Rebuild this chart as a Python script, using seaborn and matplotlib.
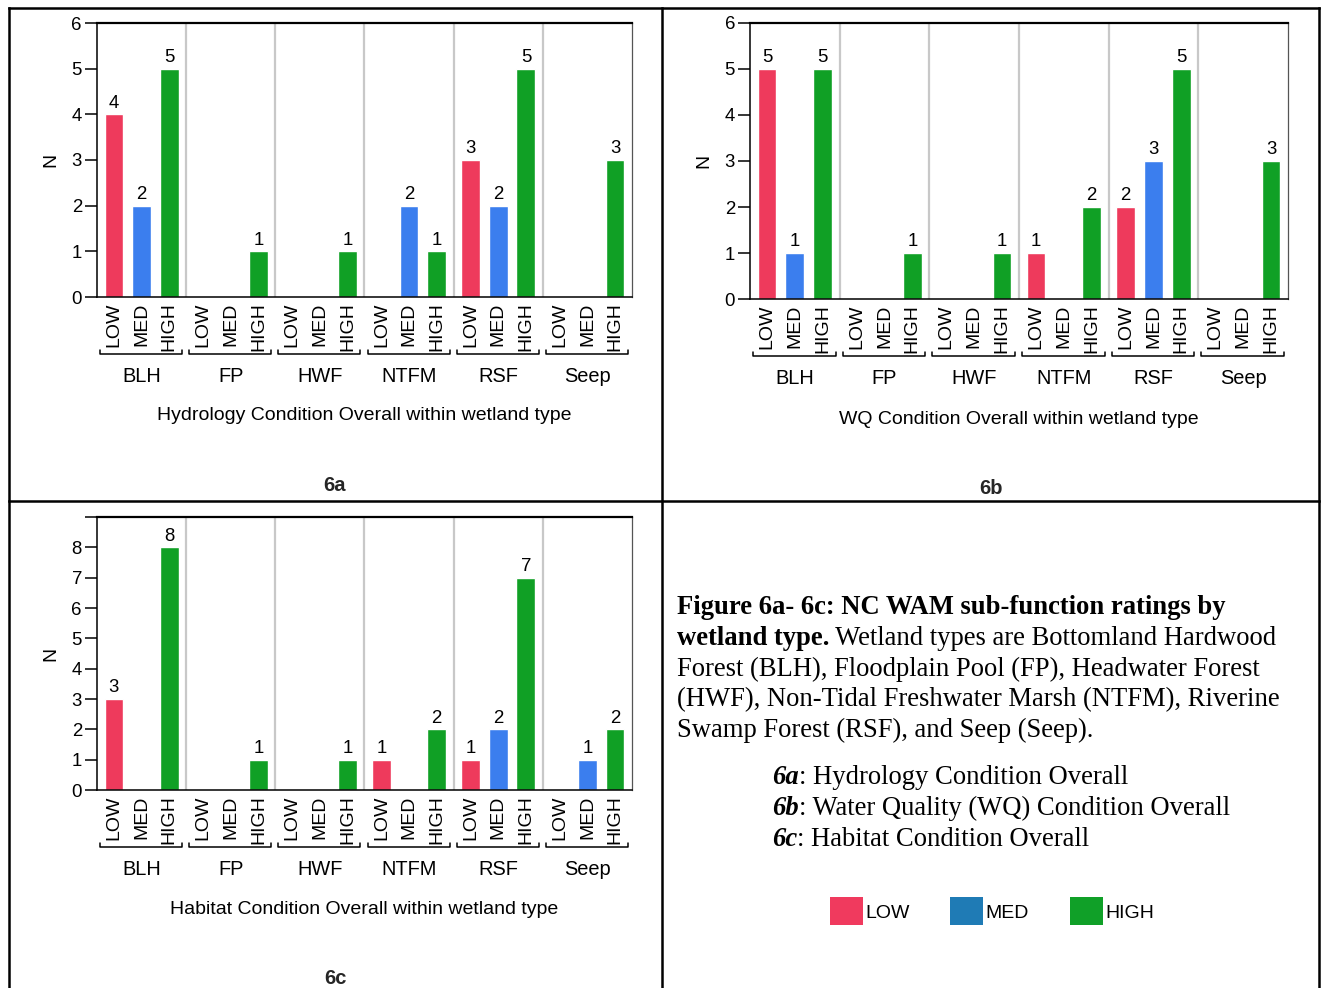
import numpy as np
import pandas as pd
import matplotlib
matplotlib.use("Agg")
import matplotlib.pyplot as plt
import matplotlib.transforms as mtransforms
from matplotlib.lines import Line2D
from matplotlib.patches import Rectangle
import seaborn as sns

# ---------------------------------------------------------------- data
wetland_types = ["BLH", "FP", "HWF", "NTFM", "RSF", "Seep"]
ratings = ["LOW", "MED", "HIGH"]

hydro_low = [4, 0, 0, 0, 3, 0]
hydro_med = [2, 0, 0, 2, 2, 0]
hydro_high = [5, 1, 1, 1, 5, 3]

wq_low = [5, 0, 0, 1, 2, 0]
wq_med = [1, 0, 0, 0, 3, 0]
wq_high = [5, 1, 1, 2, 5, 3]

hab_low = [3, 0, 0, 1, 1, 0]
hab_med = [0, 0, 0, 0, 2, 1]
hab_high = [8, 1, 1, 2, 7, 2]

bar_colors = {"LOW": "#EE3A5C", "MED": "#3B7EEE", "HIGH": "#10A025"}
legend_colors = {"LOW": "#F03A5E", "MED": "#1F7BB5", "HIGH": "#10A028"}

# ---------------------------------------------------------------- style
sns.set_theme(style="white")
plt.rcParams["font.family"] = ["Liberation Sans", "DejaVu Sans"]
plt.rcParams["axes.linewidth"] = 1.1

W, H = 1321, 988
fig = plt.figure(figsize=(W / 100, H / 100), dpi=100)
fig.patch.set_facecolor("white")


def fx(x):
    return x / W


def fy(y):
    return 1 - y / H


def px_axes(left, top, right, bottom):
    return fig.add_axes([fx(left), fy(bottom), (right - left) / W, (bottom - top) / H])


def draw_panel(ax, low, med, high, ymax, yticks, ylabels, xlabel,
               grp_off=79, xlab_off=119):
    df = pd.DataFrame({
        "type": wetland_types * 3,
        "rating": ["LOW"] * 6 + ["MED"] * 6 + ["HIGH"] * 6,
        "N": low + med + high,
    })
    sns.barplot(data=df, x="type", y="N", hue="rating",
                order=wetland_types, hue_order=ratings, palette=bar_colors,
                width=0.93, gap=0.32, errorbar=None, saturation=1,
                legend=False, ax=ax)
    ax.set_xlim(-0.5, len(wetland_types) - 0.5)
    ax.set_ylim(0, ymax)

    # value labels above non-empty bars
    for cont in ax.containers:
        labs = [f"{int(round(p.get_height()))}" if p.get_height() > 0 else ""
                for p in cont]
        ax.bar_label(cont, labels=labs, padding=2, fontsize=13.4, color="black")

    # one rotated tick label per bar
    ticks = []
    for cont, r in zip(ax.containers, ratings):
        for p in cont:
            ticks.append((p.get_x() + p.get_width() / 2, r))
    ticks.sort()
    ax.set_xticks([t[0] for t in ticks], [t[1] for t in ticks], rotation=90,
                  fontsize=14)
    ax.tick_params(axis="x", length=0, pad=4, colors="black")
    for lab in ax.get_xticklabels():
        lab.set_verticalalignment("top")

    ax.set_yticks(yticks, ylabels, fontsize=13.4)
    ax.tick_params(axis="y", length=8.6, width=1.1, pad=2.2, colors="black",
                   left=True)
    ax.set_ylabel("N", fontsize=14, labelpad=9, color="black")
    ax.set_xlabel("")

    # separators between wetland types
    for k in range(len(wetland_types) - 1):
        ax.axvline(k + 0.5, color="#C8C8C8", lw=1.6, zorder=0)

    for s in ["left", "bottom"]:
        ax.spines[s].set_color("black")
        ax.spines[s].set_linewidth(1.1)
    ax.spines["top"].set_color("black")
    ax.spines["top"].set_linewidth(1.6)
    ax.spines["right"].set_color("#555555")
    ax.spines["right"].set_linewidth(0.9)

    # group brackets and names below the tick labels
    ah = ax.bbox.height
    trans = mtransforms.blended_transform_factory(ax.transData, ax.transAxes)
    for i, name in enumerate(wetland_types):
        x0 = i - 0.5 + 0.035
        x1 = i + 0.5 - 0.045
        yl = -57 / ah
        yt = -53 / ah
        ax.add_line(Line2D([x0, x0, x1, x1], [yt, yl, yl, yt], transform=trans,
                           color="black", lw=1.1, clip_on=False))
        ax.text(i, -grp_off / ah, name, transform=trans, ha="center",
                va="center", fontsize=14.4, color="black")
    ax.text(0.5, -xlab_off / ah, xlabel, transform=ax.transAxes, ha="center",
            va="center", fontsize=14, color="black")


# ---------------------------------------------------------------- panels
ax_a = px_axes(97, 23, 632, 297)
draw_panel(ax_a, hydro_low, hydro_med, hydro_high, 6, list(range(7)),
           [str(v) for v in range(7)],
           "Hydrology Condition Overall within wetland type")

ax_b = px_axes(750, 23, 1288, 299)
draw_panel(ax_b, wq_low, wq_med, wq_high, 6, list(range(7)),
           [str(v) for v in range(7)],
           "WQ Condition Overall within wetland type", grp_off=80, xlab_off=120)

ax_c = px_axes(97, 517, 632, 790)
draw_panel(ax_c, hab_low, hab_med, hab_high, 9, list(range(10)),
           [str(v) for v in range(9)] + [""],
           "Habitat Condition Overall within wetland type")

# panel tags
tag_font = dict(fontsize=14.5, fontweight="bold", ha="center", va="center")
fig.text(fx(335), fy(485), "6a", **tag_font)
fig.text(fx(991), fy(489), "6b", **tag_font)
fig.text(fx(335), fy(978), "6c", **tag_font)

# table frame
frame_lw = 1.8
for (x0, y0, x1, y1) in [(8.5, 8.5, 1318.5, 8.5), (8.5, 8.5, 8.5, 988),
                         (1318.5, 8.5, 1318.5, 988), (662, 8.5, 662, 988),
                         (8.5, 501.5, 1318.5, 501.5)]:
    fig.add_artist(Line2D([fx(x0), fx(x1)], [fy(y0), fy(y1)],
                          transform=fig.transFigure, color="black",
                          lw=frame_lw, solid_capstyle="projecting"))

# ---------------------------------------------------------------- caption
serif = ["Liberation Serif", "DejaVu Serif"]
cap_size = 19.2
renderer = fig.canvas.get_renderer()


def caption_line(x, y, parts):
    """Write a sequence of (text, weight, style) runs on one baseline."""
    xpos = x
    for txt, weight, style in parts:
        t = fig.text(fx(xpos), fy(y), txt, fontsize=cap_size, family=serif,
                     fontweight=weight, fontstyle=style, ha="left",
                     va="baseline", color="black")
        ext = t.get_window_extent(renderer=renderer)
        xpos += ext.width


base0 = 614.5
step = 30.5
caption_line(677, base0, [("Figure 6a- 6c: NC WAM sub-function ratings by", "bold", "normal")])
caption_line(677, base0 + step, [("wetland type.", "bold", "normal"),
                                 (" Wetland types are Bottomland Hardwood", "normal", "normal")])
caption_line(677, base0 + 2 * step, [("Forest (BLH), Floodplain Pool (FP), Headwater Forest", "normal", "normal")])
caption_line(677, base0 + 3 * step, [("(HWF), Non-Tidal Freshwater Marsh (NTFM), Riverine", "normal", "normal")])
caption_line(677, base0 + 4 * step, [("Swamp Forest (RSF), and Seep (Seep).", "normal", "normal")])

caption_line(772, 783.5, [("6a", "bold", "italic"), (": Hydrology Condition Overall", "normal", "normal")])
caption_line(772, 814.5, [("6b", "bold", "italic"), (": Water Quality (WQ) Condition Overall", "normal", "normal")])
caption_line(772, 845.5, [("6c", "bold", "italic"), (": Habitat Condition Overall", "normal", "normal")])

# ---------------------------------------------------------------- legend
leg_x = [830, 950, 1070]
for x, r in zip(leg_x, ratings):
    fig.add_artist(Rectangle((fx(x), fy(925)), 33 / W, 28 / H,
                             transform=fig.transFigure,
                             facecolor=legend_colors[r], edgecolor="none"))
    fig.text(fx(x + 35), fy(913), r, fontsize=14, ha="left", va="center",
             color="black")

fig.savefig("out.png", dpi=100)
